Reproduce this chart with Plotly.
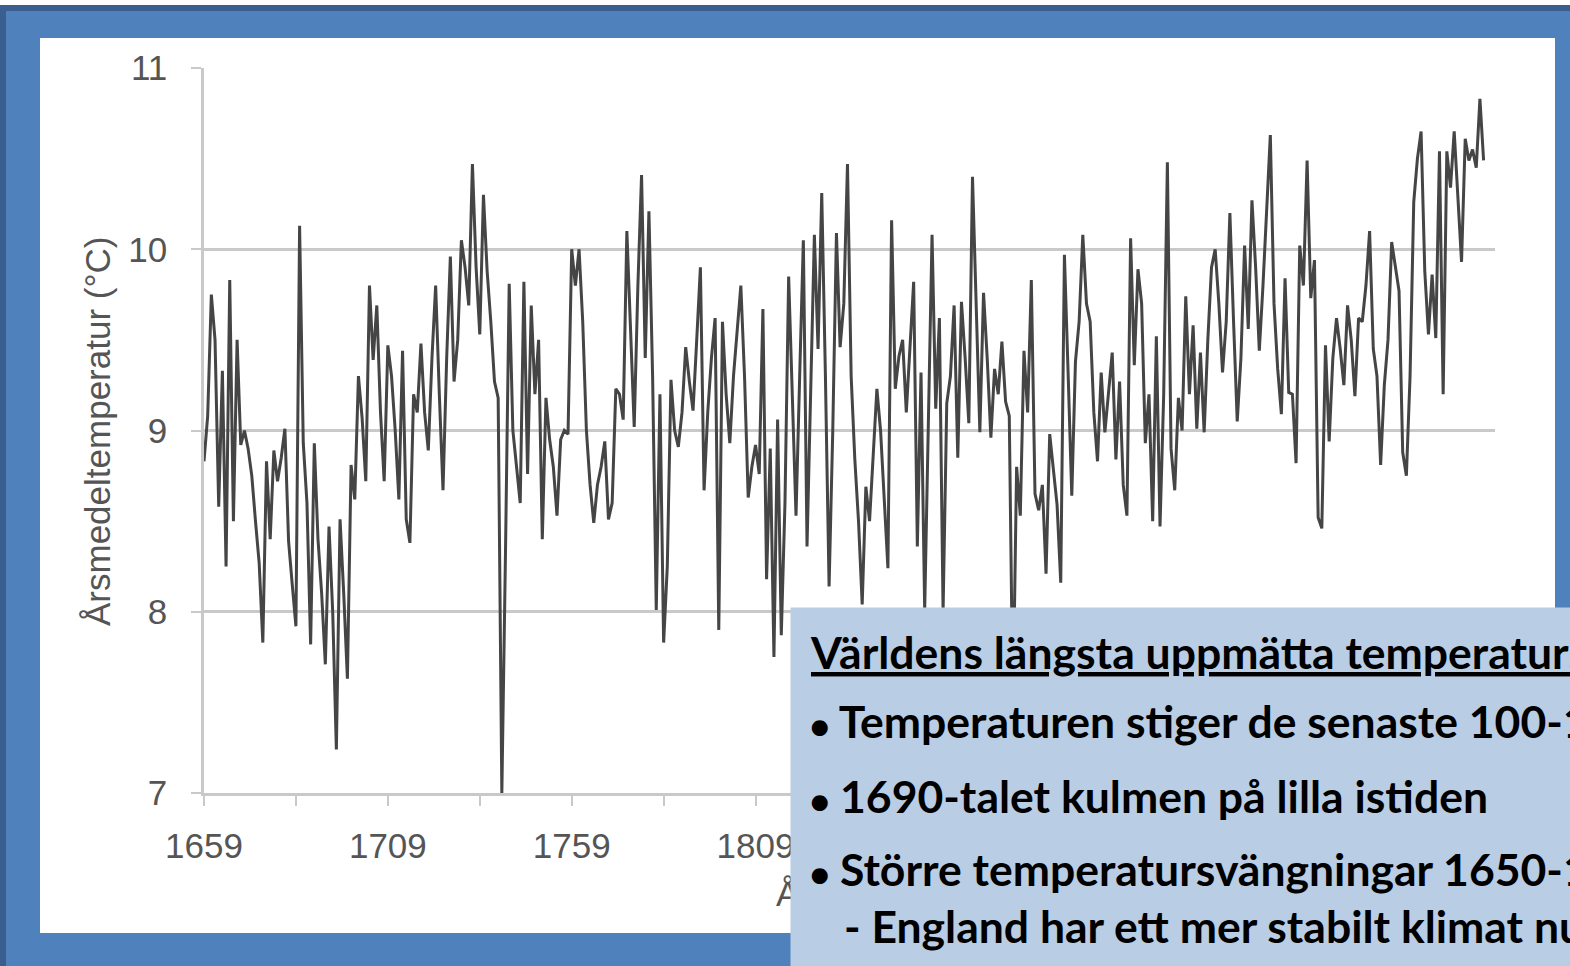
import plotly.graph_objects as go

W, H = 1570, 966
L, R, T, B = 204, 75, 68, 173

# annual mean temperature, Central England, 1659-2007
years = list(range(1659, 2008))
temp_1659_1699 = [8.83, 9.08, 9.75, 9.50, 8.58, 9.33, 8.25, 9.83, 8.50, 9.50,
                  8.92, 9.00, 8.90, 8.75, 8.50, 8.27, 7.83, 8.83, 8.40, 8.89,
                  8.72, 8.85, 9.01, 8.39, 8.15, 7.92, 10.13, 8.93, 8.60, 7.82,
                  8.93, 8.40, 8.10, 7.71, 8.47, 8.00, 7.24, 8.51, 8.10, 7.63,
                  8.81]
temp_1700s = [8.62, 9.30, 9.07, 8.72, 9.80, 9.39, 9.69, 9.10, 8.72, 9.47,
              9.30, 9.00, 8.62, 9.44, 8.51, 8.38, 9.20, 9.10, 9.48, 9.10,
              8.89, 9.40, 9.80, 9.20, 8.67, 9.40, 9.96, 9.27, 9.50, 10.05,
              9.90, 9.69, 10.47, 9.90, 9.53, 10.30, 9.88, 9.60, 9.27, 9.18,
              7.00, 8.34, 9.81, 9.00, 8.79, 8.60, 9.82, 8.76, 9.69, 9.20,
              9.50, 8.40, 9.18, 8.95, 8.80, 8.53, 8.95, 9.00, 8.98, 10.00,
              9.80, 10.00, 9.60, 9.00, 8.70, 8.49, 8.70, 8.80, 8.94, 8.51,
              8.60, 9.23, 9.20, 9.06, 10.10, 9.50, 9.02, 9.80, 10.41, 9.40,
              10.21, 9.30, 8.01, 9.20, 7.83, 8.25, 9.28, 9.00, 8.91, 9.10,
              9.46, 9.27, 9.11, 9.50, 9.90, 8.67, 9.10, 9.40, 9.62, 7.90]
temp_1800s = [9.60, 9.20, 8.93, 9.30, 9.56, 9.80, 9.30, 8.63, 8.80, 8.92,
              8.76, 9.67, 8.18, 8.90, 7.75, 9.06, 7.87, 8.60, 9.85, 9.20,
              8.53, 9.30, 10.05, 8.36, 9.20, 10.08, 9.45, 10.31, 9.30, 8.14,
              9.00, 10.09, 9.46, 9.70, 10.47, 9.30, 8.84, 8.50, 8.04, 8.69,
              8.50, 8.90, 9.23, 9.00, 8.60, 8.24, 10.16, 9.23, 9.41, 9.50,
              9.10, 9.50, 9.82, 8.36, 9.32, 8.01, 9.00, 10.08, 9.12, 9.62,
              8.00, 9.15, 9.30, 9.69, 8.85, 9.71, 9.40, 9.04, 10.40, 9.69,
              8.99, 9.76, 9.40, 8.96, 9.34, 9.20, 9.49, 9.16, 9.08, 7.45,
              8.80, 8.53, 9.44, 9.10, 9.83, 8.65, 8.56, 8.70, 8.21, 8.98,
              8.80, 8.59, 8.16, 9.97, 9.32, 8.64, 9.38, 9.60, 10.08, 9.70]
temp_1900s = [9.60, 9.10, 8.83, 9.32, 8.99, 9.20, 9.43, 8.84, 9.27, 8.70,
              8.53, 10.06, 9.36, 9.89, 9.70, 8.93, 9.20, 8.50, 9.52, 8.47,
              9.20, 10.48, 8.90, 8.67, 9.18, 9.00, 9.74, 9.20, 9.58, 9.01,
              9.43, 8.99, 9.50, 9.90, 10.00, 9.70, 9.32, 9.60, 10.20, 9.60,
              9.05, 9.40, 10.02, 9.56, 10.27, 9.90, 9.44, 9.80, 10.20, 10.63,
              9.70, 9.34, 9.09, 9.84, 9.21, 9.20, 8.82, 10.02, 9.80, 10.49,
              9.73, 9.94, 8.52, 8.46, 9.47, 8.94, 9.40, 9.62, 9.45, 9.25,
              9.69, 9.50, 9.19, 9.62, 9.60, 9.80, 10.10, 9.45, 9.30, 8.81,
              9.25, 9.50, 10.04, 9.90, 9.77, 8.88, 8.75, 9.30, 10.26, 10.50,
              10.65, 9.88, 9.53, 9.86, 9.51, 10.54, 9.20, 10.54, 10.34, 10.65]
temp_2000s = [10.30, 9.93, 10.61, 10.49, 10.55, 10.45, 10.83, 10.49]
temps = temp_1659_1699 + temp_1700s + temp_1800s + temp_1900s + temp_2000s

# ticks every 25 years, labels every 50; labels under the text box are hidden anyway
x_ticks = list(range(1659, 2010, 25))
x_labels = ["1659", "", "1709", "", "1759", "", "1809",
            "", "", "", "", "", "", "", ""]
y_ticks = [7, 8, 9, 10, 11]

box_title = "Världens längsta uppmätta temperaturserie"
box_lines = ["Temperaturen stiger de senaste 100-150 åren",
             "1690-talet kulmen på lilla istiden",
             "Större temperatursvängningar 1650-1850"]
box_subline = "- England har ett mer stabilt klimat nu"


def px(x):
    return (x - L) / (W - L - R)


def py(y):
    return (H - B - y) / (H - T - B)


fig = go.Figure()
fig.add_trace(go.Scatter(x=years, y=temps, mode="lines",
                         line=dict(color="#454545", width=3),
                         showlegend=False))

grey = "#C9C9C9"
tick_font = dict(family="Liberation Sans, Arial", size=35, color="#555555")
fig.update_xaxes(range=[1659, 2010.1], tickvals=x_ticks, ticktext=x_labels,
                 showgrid=False, zeroline=False, showline=True,
                 linecolor=grey, linewidth=2.5, ticks="outside", ticklen=10,
                 tickwidth=2, tickcolor=grey, tickfont=tick_font,
                 ticklabelstandoff=10)
fig.update_yaxes(range=[7, 11], tickvals=y_ticks, showgrid=True,
                 gridcolor=grey, gridwidth=2.5, zeroline=False, showline=True,
                 linecolor=grey, linewidth=2.5, ticks="outside", ticklen=10,
                 tickwidth=2, tickcolor=grey, tickfont=tick_font,
                 ticklabelstandoff=17)

# slide frame
fig.add_shape(type="rect", xref="paper", yref="paper", layer="below",
              x0=px(-5), x1=px(1580), y0=py(5), y1=py(-5),
              fillcolor="white", line_width=0)
fig.add_shape(type="rect", xref="paper", yref="paper", layer="below",
              x0=px(3), x1=px(1585), y0=py(985), y1=py(8),
              fillcolor="rgba(0,0,0,0)", line=dict(color="#3A5F8E", width=6))
fig.add_shape(type="rect", xref="paper", yref="paper", layer="below",
              x0=px(40), x1=px(1555), y0=py(933), y1=py(38),
              fillcolor="white", line_width=0)

label_font = dict(family="Liberation Sans, Arial", size=35, color="#555555")
fig.add_annotation(text="Årsmedeltemperatur (°C)", xref="paper", yref="paper",
                   x=px(97), y=py(432), xanchor="center", yanchor="middle",
                   textangle=-90, showarrow=False, font=label_font)
fig.add_annotation(text="År", xref="paper", yref="paper",
                   x=px(793), y=py(893), xanchor="center", yanchor="middle",
                   showarrow=False, font=label_font)

# text box over the chart
fig.add_annotation(text=" ", xref="paper", yref="paper", x=px(790), y=py(607),
                   xanchor="left", yanchor="top", width=820, height=400,
                   bgcolor="#B9CDE5", borderpad=0, showarrow=False)

box_font = dict(family="Lato", size=44.5, color="black", weight="bold")
bullet = "<span style='font-size:32px'>●</span> "
fig.add_annotation(text="<u>" + box_title + "</u>", xref="paper", yref="paper",
                   x=px(808), y=py(651), xanchor="left", yanchor="middle",
                   showarrow=False, font=box_font)
for line, yc in zip(box_lines, [720, 795, 868]):
    fig.add_annotation(text=bullet + line, xref="paper", yref="paper",
                       x=px(808), y=py(yc), xanchor="left", yanchor="middle",
                       showarrow=False, font=box_font)
fig.add_annotation(text=box_subline, xref="paper", yref="paper",
                   x=px(842), y=py(925), xanchor="left", yanchor="middle",
                   showarrow=False, font=box_font)

fig.update_layout(width=W, height=H, margin=dict(l=L, r=R, t=T, b=B),
                  paper_bgcolor="#4F81BD", plot_bgcolor="white")

fig.write_html("out.html", config={"displayModeBar": False},
               post_script="document.body.style.margin='0px';"
                           "document.body.style.overflow='hidden';")
